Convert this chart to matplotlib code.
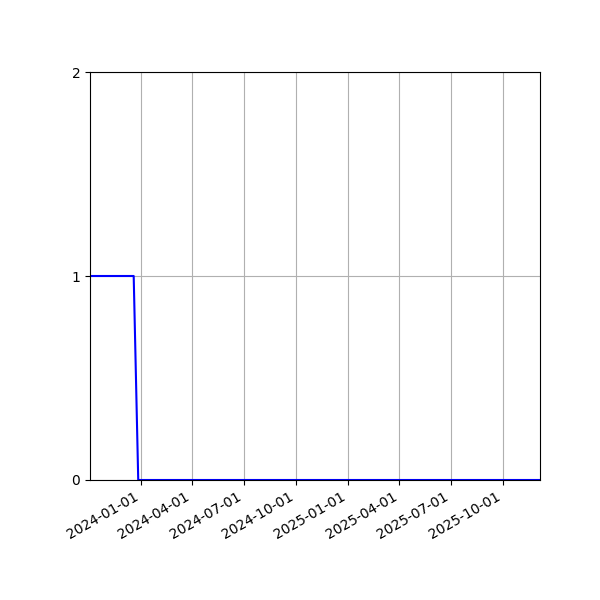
import matplotlib
matplotlib.use("Agg")
import matplotlib.pyplot as plt
import matplotlib.dates as mdates
import numpy as np

dates = np.array(["2023-10-04", "2023-12-20", "2023-12-28", "2025-12-05"], dtype="datetime64[D]")
values = [1, 1, 0, 0]
tick_dates = np.array(["2024-01-01", "2024-04-01", "2024-07-01", "2024-10-01",
                       "2025-01-01", "2025-04-01", "2025-07-01", "2025-10-01"], dtype="datetime64[D]")

fig, ax = plt.subplots(figsize=(6, 6), dpi=100)
ax.plot(dates, values, color="blue")
ax.set_xlim(dates[0], dates[-1])
ax.set_ylim(0, 2)
ax.set_yticks([0, 1, 2])
ax.set_xticks(tick_dates)
ax.xaxis.set_major_formatter(mdates.DateFormatter("%Y-%m-%d"))
ax.grid(True)
fig.autofmt_xdate()
fig.subplots_adjust(left=0.15, right=0.9, top=0.88, bottom=0.2)
fig.savefig("out.png")
